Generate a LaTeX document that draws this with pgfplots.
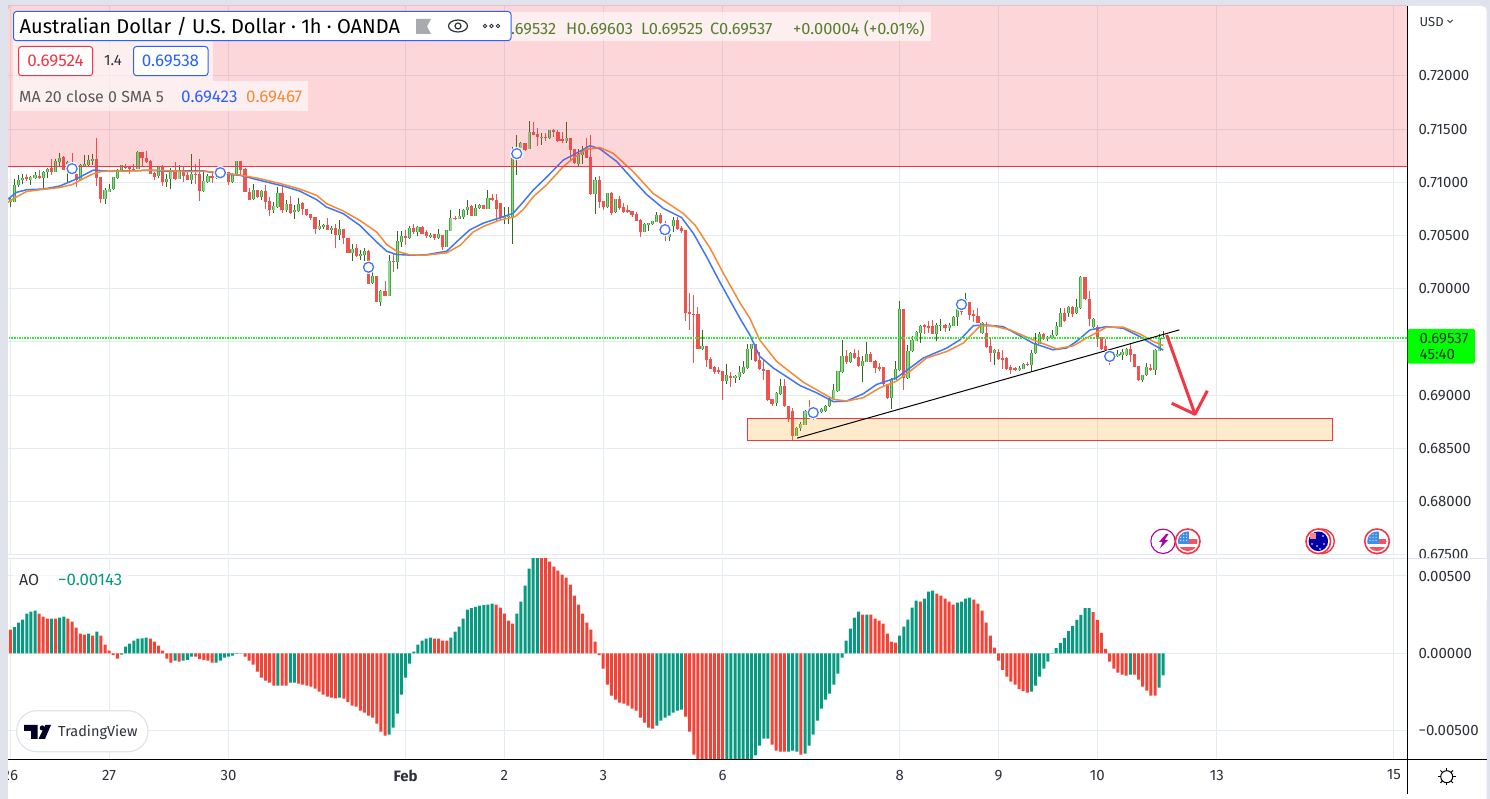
\documentclass[border=0pt]{standalone}
\usepackage{fontspec}
\setmainfont{Fira Sans}
\usepackage{pgfplots}
\usepackage{pgfplotstable}
\usetikzlibrary{calc}
\pgfplotsset{compat=1.18}

\definecolor{framec}{HTML}{E0E3EB}
\definecolor{gridc}{HTML}{E4EBF2}
\definecolor{txt}{HTML}{2F323C}
\definecolor{tvred}{HTML}{F23645}
\definecolor{tvblue}{HTML}{2962FF}
\definecolor{maorange}{HTML}{F58A36}
\definecolor{mablue}{HTML}{4176F5}
\definecolor{upwick}{HTML}{33691E}
\definecolor{upedge}{HTML}{4CA043}
\definecolor{upfill}{HTML}{8BD98A}
\definecolor{dn}{HTML}{EF5350}
\definecolor{aoteal}{HTML}{089981}
\definecolor{aored}{HTML}{F44336}
\definecolor{ohlc}{HTML}{55802F}
\definecolor{zonefill}{HTML}{FF9800}
\definecolor{canton}{HTML}{3F8FE6}
\definecolor{lastprice}{HTML}{2BF02B}

% hourly candles, i = bar number from 26 Jan
\pgfplotstableread{
i o h l c
0 0.70815 0.70862 0.70768 0.70840
1 0.70815 0.71035 0.70815 0.70978
2 0.70972 0.71066 0.70956 0.71025
3 0.71019 0.71075 0.70987 0.71044
5 0.71019 0.71057 0.70972 0.71047
6 0.71041 0.71097 0.71035 0.71066
8 0.71041 0.71104 0.70925 0.71097
9 0.71097 0.71135 0.71041 0.71129
11 0.71097 0.71223 0.71097 0.71198
12 0.71188 0.71279 0.71144 0.71232
14 0.71176 0.71201 0.70997 0.71192
17 0.71025 0.71176 0.71019 0.71160
18 0.71151 0.71254 0.71144 0.71170
19 0.71160 0.71254 0.71144 0.71207
20 0.71198 0.71270 0.71160 0.71223
23 0.70843 0.70947 0.70793 0.70925
24 0.70912 0.70987 0.70909 0.70940
25 0.70934 0.71047 0.70925 0.71047
26 0.71041 0.71129 0.71028 0.71119
27 0.71119 0.71166 0.71113 0.71160
31 0.71129 0.71295 0.71126 0.71286
36 0.71057 0.71157 0.71044 0.71157
38 0.71003 0.71082 0.70956 0.71035
39 0.71031 0.71135 0.70940 0.71119
41 0.71035 0.71160 0.71028 0.71119
44 0.71019 0.71264 0.70987 0.71082
47 0.70915 0.71119 0.70909 0.71009
48 0.71003 0.71082 0.70994 0.71060
50 0.71041 0.71057 0.71035 0.71050
52 0.71082 0.71100 0.71075 0.71094
54 0.71003 0.71088 0.70997 0.71075
55 0.71075 0.71198 0.71075 0.71198
59 0.70845 0.70989 0.70838 0.70926
61 0.70863 0.70932 0.70838 0.70917
64 0.70738 0.70816 0.70713 0.70776
65 0.70769 0.70958 0.70763 0.70901
67 0.70744 0.70832 0.70722 0.70794
69 0.70722 0.70791 0.70653 0.70738
70 0.70732 0.70857 0.70719 0.70801
75 0.70562 0.70644 0.70556 0.70587
76 0.70578 0.70606 0.70565 0.70597
78 0.70549 0.70587 0.70518 0.70575
80 0.70502 0.70644 0.70455 0.70559
83 0.70336 0.70424 0.70260 0.70377
85 0.70308 0.70361 0.70267 0.70323
86 0.70314 0.70386 0.70257 0.70352
88 0.70053 0.70166 0.70047 0.70116
90 0.69874 0.69984 0.69833 0.69975
92 0.69931 0.70314 0.69931 0.70257
94 0.70251 0.70540 0.70182 0.70446
95 0.70436 0.70540 0.70392 0.70493
97 0.70477 0.70587 0.70471 0.70575
99 0.70531 0.70587 0.70493 0.70584
102 0.70490 0.70524 0.70480 0.70509
104 0.70477 0.70559 0.70471 0.70512
106 0.70392 0.70549 0.70392 0.70549
107 0.70546 0.70738 0.70540 0.70669
109 0.70656 0.70754 0.70653 0.70681
110 0.70675 0.70754 0.70659 0.70744
111 0.70738 0.70832 0.70691 0.70769
113 0.70684 0.70794 0.70681 0.70763
114 0.70763 0.70794 0.70754 0.70785
116 0.70754 0.70926 0.70750 0.70857
120 0.70661 0.70765 0.70608 0.70677
121 0.70670 0.70765 0.70608 0.70683
122 0.70677 0.71336 0.70419 0.71226
123 0.71226 0.71446 0.71069 0.71320
124 0.71320 0.71383 0.71305 0.71374
126 0.71314 0.71578 0.71314 0.71471
129 0.71424 0.71468 0.71352 0.71430
131 0.71421 0.71493 0.71411 0.71490
135 0.71393 0.71568 0.71367 0.71418
138 0.71173 0.71311 0.71157 0.71264
139 0.71257 0.71345 0.71173 0.71305
142 0.70890 0.71047 0.70702 0.71022
145 0.70771 0.70903 0.70755 0.70896
147 0.70717 0.70840 0.70708 0.70840
154 0.70535 0.70614 0.70532 0.70608
155 0.70601 0.70620 0.70545 0.70614
156 0.70611 0.70639 0.70598 0.70633
157 0.70629 0.70721 0.70626 0.70692
160 0.70488 0.70535 0.70450 0.70513
161 0.70589 0.70670 0.70535 0.70645
168 0.69430 0.69609 0.69420 0.69458
174 0.69132 0.69295 0.69107 0.69185
176 0.69163 0.69185 0.69116 0.69176
177 0.69169 0.69270 0.69138 0.69213
178 0.69207 0.69320 0.69201 0.69264
179 0.69257 0.69477 0.69248 0.69436
180 0.69433 0.69483 0.69333 0.69477
186 0.68924 0.69028 0.68893 0.69019
187 0.69012 0.69154 0.68997 0.69081
191 0.68617 0.68700 0.68617 0.68695
192 0.68689 0.68748 0.68664 0.68726
193 0.68720 0.68857 0.68717 0.68851
195 0.68789 0.68835 0.68767 0.68820
196 0.68829 0.68866 0.68820 0.68860
197 0.68841 0.68876 0.68835 0.68866
198 0.68851 0.68907 0.68845 0.68897
199 0.68897 0.68975 0.68891 0.68966
200 0.68960 0.69100 0.68953 0.69044
201 0.69037 0.69230 0.69031 0.69224
202 0.69215 0.69519 0.69208 0.69364
204 0.69308 0.69401 0.69302 0.69395
207 0.69271 0.69364 0.69121 0.69320
208 0.69314 0.69498 0.69308 0.69386
214 0.68975 0.69162 0.68866 0.69152
215 0.69146 0.69317 0.69140 0.69246
216 0.69239 0.69883 0.69224 0.69805
218 0.69162 0.69473 0.69156 0.69417
219 0.69411 0.69557 0.69404 0.69519
220 0.69513 0.69603 0.69504 0.69597
221 0.69588 0.69659 0.69488 0.69650
225 0.69575 0.69675 0.69504 0.69656
226 0.69650 0.69712 0.69606 0.69662
228 0.69631 0.69675 0.69606 0.69659
229 0.69653 0.69743 0.69647 0.69737
230 0.69731 0.69812 0.69650 0.69805
232 0.69877 0.69961 0.69877 0.69908
236 0.69582 0.69690 0.69575 0.69681
239 0.69395 0.69432 0.69286 0.69420
245 0.69233 0.69271 0.69227 0.69258
246 0.69249 0.69302 0.69243 0.69295
248 0.69286 0.69426 0.69218 0.69395
249 0.69395 0.69588 0.69389 0.69488
250 0.69482 0.69597 0.69476 0.69572
252 0.69529 0.69557 0.69513 0.69544
253 0.69538 0.69613 0.69532 0.69566
254 0.69563 0.69684 0.69557 0.69653
255 0.69644 0.69821 0.69638 0.69774
257 0.69768 0.69837 0.69731 0.69830
259 0.69768 0.69908 0.69762 0.69824
260 0.69815 0.70120 0.69805 0.70110
263 0.69638 0.69722 0.69628 0.69712
268 0.69379 0.69407 0.69348 0.69395
269 0.69364 0.69426 0.69358 0.69386
270 0.69379 0.69432 0.69333 0.69401
271 0.69379 0.69442 0.69364 0.69432
275 0.69146 0.69193 0.69121 0.69193
276 0.69187 0.69302 0.69177 0.69261
278 0.69239 0.69432 0.69187 0.69426
279 0.69417 0.69575 0.69411 0.69535
280 0.69532 0.69603 0.69525 0.69537
}\candlesup

\pgfplotstableread{
i o h l c
4 0.71053 0.71082 0.71013 0.71031
7 0.71063 0.71113 0.71035 0.71041
10 0.71132 0.71223 0.71066 0.71097
13 0.71239 0.71245 0.71113 0.71119
15 0.71160 0.71279 0.71129 0.71129
16 0.71075 0.71113 0.70956 0.71025
21 0.71223 0.71421 0.70962 0.71041
22 0.71047 0.71047 0.70805 0.70843
28 0.71157 0.71176 0.71129 0.71138
29 0.71141 0.71151 0.71082 0.71122
30 0.71129 0.71176 0.71113 0.71122
32 0.71283 0.71283 0.71151 0.71232
33 0.71232 0.71295 0.71182 0.71188
34 0.71198 0.71214 0.71082 0.71082
35 0.71088 0.71097 0.71025 0.71050
37 0.71154 0.71160 0.70962 0.71003
40 0.71119 0.71192 0.71019 0.71035
42 0.71119 0.71144 0.71003 0.71057
43 0.71066 0.71097 0.71019 0.71019
45 0.71082 0.71176 0.70987 0.71069
46 0.71082 0.71217 0.70824 0.70918
49 0.71060 0.71088 0.70997 0.71044
51 0.71082 0.71097 0.71041 0.71050
53 0.71094 0.71094 0.70978 0.71003
56 0.71198 0.71198 0.71066 0.71119
57 0.71129 0.71135 0.70906 0.70906
58 0.70911 0.70951 0.70835 0.70838
60 0.70926 0.70926 0.70857 0.70863
62 0.70917 0.70973 0.70747 0.70816
63 0.70823 0.70863 0.70684 0.70738
66 0.70901 0.70967 0.70713 0.70744
68 0.70794 0.70870 0.70706 0.70713
71 0.70807 0.70816 0.70691 0.70750
72 0.70754 0.70754 0.70684 0.70691
73 0.70700 0.70706 0.70650 0.70662
74 0.70672 0.70678 0.70512 0.70559
77 0.70597 0.70662 0.70549 0.70549
79 0.70575 0.70612 0.70380 0.70502
81 0.70562 0.70565 0.70417 0.70477
82 0.70480 0.70480 0.70333 0.70333
84 0.70380 0.70424 0.70298 0.70304
87 0.70352 0.70367 0.70040 0.70047
89 0.70116 0.70116 0.69874 0.69874
91 0.69975 0.70069 0.69931 0.69931
93 0.70257 0.70336 0.70157 0.70251
96 0.70493 0.70549 0.70414 0.70477
98 0.70575 0.70606 0.70518 0.70531
100 0.70584 0.70587 0.70518 0.70518
101 0.70531 0.70549 0.70480 0.70493
103 0.70512 0.70518 0.70461 0.70474
105 0.70509 0.70509 0.70361 0.70392
108 0.70666 0.70681 0.70644 0.70653
112 0.70776 0.70785 0.70681 0.70688
115 0.70785 0.70785 0.70754 0.70754
117 0.70857 0.70889 0.70826 0.70832
118 0.70838 0.70889 0.70625 0.70754
119 0.70802 0.70802 0.70645 0.70661
125 0.71367 0.71367 0.71298 0.71305
127 0.71474 0.71568 0.71446 0.71446
128 0.71455 0.71509 0.71345 0.71424
130 0.71430 0.71462 0.71393 0.71418
132 0.71493 0.71499 0.71430 0.71471
133 0.71477 0.71493 0.71383 0.71393
134 0.71408 0.71471 0.71367 0.71393
136 0.71421 0.71421 0.71210 0.71305
137 0.71311 0.71311 0.71173 0.71179
140 0.71305 0.71414 0.71226 0.71232
141 0.71236 0.71446 0.70881 0.70890
143 0.71022 0.71060 0.70755 0.70818
144 0.70824 0.70824 0.70739 0.70771
146 0.70896 0.70912 0.70692 0.70714
148 0.70840 0.70871 0.70739 0.70755
149 0.70765 0.70802 0.70714 0.70724
150 0.70736 0.70786 0.70708 0.70717
151 0.70730 0.70733 0.70677 0.70692
152 0.70699 0.70724 0.70636 0.70639
153 0.70645 0.70651 0.70488 0.70535
158 0.70692 0.70714 0.70608 0.70614
159 0.70608 0.70639 0.70450 0.70494
162 0.70645 0.70670 0.70551 0.70557
163 0.70567 0.70589 0.70520 0.70545
164 0.70551 0.70551 0.69697 0.69772
165 0.69779 0.69961 0.69609 0.69763
166 0.69766 0.69939 0.69301 0.69750
167 0.69760 0.69829 0.69436 0.69436
169 0.69458 0.69465 0.69264 0.69326
170 0.69336 0.69358 0.69248 0.69248
171 0.69264 0.69270 0.69201 0.69219
172 0.69232 0.69264 0.69201 0.69216
173 0.69223 0.69223 0.68956 0.69132
175 0.69182 0.69216 0.69075 0.69163
181 0.69477 0.69483 0.69311 0.69320
182 0.69326 0.69405 0.69238 0.69245
183 0.69245 0.69333 0.69138 0.69223
184 0.69232 0.69232 0.68943 0.68950
185 0.68959 0.68965 0.68902 0.68918
188 0.69081 0.69154 0.68887 0.68893
189 0.68902 0.68902 0.68745 0.68777
190 0.68851 0.68882 0.68571 0.68617
194 0.68882 0.68950 0.68845 0.68851
203 0.69364 0.69426 0.69295 0.69308
205 0.69395 0.69432 0.69342 0.69348
206 0.69358 0.69426 0.69264 0.69271
209 0.69386 0.69401 0.69308 0.69314
210 0.69317 0.69333 0.69208 0.69255
211 0.69264 0.69302 0.69224 0.69246
212 0.69264 0.69264 0.69090 0.69100
213 0.69109 0.69109 0.68966 0.68975
217 0.69805 0.69805 0.69044 0.69162
222 0.69656 0.69666 0.69575 0.69644
223 0.69653 0.69697 0.69582 0.69628
224 0.69650 0.69706 0.69572 0.69575
227 0.69659 0.69666 0.69597 0.69631
231 0.69829 0.69893 0.69753 0.69784
233 0.69871 0.69877 0.69706 0.69753
234 0.69762 0.69799 0.69690 0.69743
235 0.69743 0.69821 0.69675 0.69681
237 0.69588 0.69690 0.69442 0.69448
238 0.69457 0.69535 0.69311 0.69395
240 0.69404 0.69432 0.69333 0.69339
241 0.69348 0.69420 0.69246 0.69333
242 0.69345 0.69355 0.69239 0.69246
243 0.69261 0.69286 0.69202 0.69239
244 0.69255 0.69264 0.69230 0.69233
247 0.69295 0.69308 0.69271 0.69280
251 0.69575 0.69588 0.69519 0.69526
256 0.69774 0.69815 0.69690 0.69697
258 0.69830 0.69837 0.69737 0.69762
261 0.70110 0.70110 0.69893 0.69899
262 0.69899 0.69980 0.69650 0.69712
264 0.69644 0.69659 0.69451 0.69535
265 0.69544 0.69550 0.69426 0.69432
266 0.69463 0.69526 0.69411 0.69420
267 0.69420 0.69432 0.69286 0.69317
272 0.69432 0.69488 0.69308 0.69379
273 0.69389 0.69389 0.69261 0.69261
274 0.69271 0.69271 0.69131 0.69146
277 0.69258 0.69292 0.69230 0.69239
}\candlesdown

\begin{document}
\begin{tikzpicture}
\useasboundingbox (0,0) rectangle (1490pt,799pt);
\fill[framec] (0,0) rectangle (1490pt,799pt);
\fill[white] (8pt,0) [rounded corners=5pt] -- (8pt,793pt) -- (1486.7pt,793pt) [sharp corners] -- (1486.7pt,0) -- cycle;

% price pane: grid and candles
\begin{axis}[
    at={(8pt,244pt)}, anchor=south west, scale only axis,
    width=1399pt, height=549pt,
    xmin=-0.56, xmax=339.2, ymin=0.67497, ymax=0.72658,
    axis line style={draw=none}, major tick length=0pt, scaled ticks=false,
    grid=major, grid style={color=gridc, line width=1pt},
    xtick={0,24,53,96,120,144,173,216,240,264,293,336}, xticklabels={},
    ytick={0.675,0.68,0.685,0.69,0.695,0.70,0.705,0.71,0.715,0.72},
    yticklabels={0.67500,0.68000,0.68500,0.69000,{},0.70000,0.70500,0.71000,0.71500,0.72000},
    yticklabel pos=right,
    yticklabel style={anchor=west, xshift=8pt, text=txt, font=\fontsize{15}{15}\selectfont},
]
    % wicks
    \addplot[draw=none, mark=none, forget plot, error bars/.cd, y dir=minus, y explicit, error mark=none,
        error bar style={color=upwick, line width=1pt}]
        table[x=i, y=h, y error minus expr=\thisrow{h}-\thisrow{l}] {\candlesup};
    \addplot[draw=none, mark=none, forget plot, error bars/.cd, y dir=minus, y explicit, error mark=none,
        error bar style={color=dn, line width=1pt}]
        table[x=i, y=h, y error minus expr=\thisrow{h}-\thisrow{l}] {\candlesdown};
    % bodies
    \addplot[draw=none, mark=none, forget plot, error bars/.cd, y dir=minus, y explicit, error mark=none,
        error bar style={color=upedge, line width=3.2pt}]
        table[x=i, y=c, y error minus expr=\thisrow{c}-\thisrow{o}] {\candlesup};
    \addplot[draw=none, mark=none, forget plot, error bars/.cd, y dir=minus, y explicit, error mark=none,
        error bar style={color=upfill, line width=1.4pt}]
        table[x=i, y=c, y error minus expr=\thisrow{c}-\thisrow{o}] {\candlesup};
    \addplot[draw=none, mark=none, forget plot, error bars/.cd, y dir=minus, y explicit, error mark=none,
        error bar style={color=dn, line width=3.2pt}]
        table[x=i, y=o, y error minus expr=\thisrow{o}-\thisrow{c}] {\candlesdown};
\end{axis}

% price pane: everything that lies over the candles
\begin{axis}[
    at={(8pt,244pt)}, anchor=south west, scale only axis,
    width=1399pt, height=549pt,
    xmin=-0.56, xmax=339.2, ymin=0.67497, ymax=0.72658,
    hide axis,
]
    % MA 20 and its SMA 5
    \addplot[mablue, line width=1.5pt] coordinates {
        (-0.56,0.70843)(1.5,0.70906)(4,0.70931)(8,0.70937)(12,0.70965)(15.3,0.71019)(17.7,0.71066)(20.2,0.71116)
        (24.2,0.71104)(29.9,0.71110)(33.9,0.71113)(38,0.71104)(42.8,0.71107)(46.9,0.71107)(50.9,0.71082)(55.8,0.71066)
        (60.6,0.71019)(66.3,0.70965)(70.3,0.70918)(74.4,0.70837)(76.8,0.70768)(80.9,0.70705)(84.9,0.70595)(89,0.70438)
        (91.4,0.70353)(93.8,0.70322)(97,0.70316)(101,0.70319)(106,0.70353)(109.2,0.70470)(111.6,0.70554)(114.9,0.70617)
        (118.9,0.70667)(122.1,0.70708)(124.6,0.70818)(127,0.70928)(130.2,0.71047)(134.3,0.71210)(136.7,0.71257)(140.8,0.71345)
        (143.2,0.71314)(147.3,0.71195)(151.3,0.71022)(154.5,0.70887)(158.6,0.70755)(163,0.70670)(165.9,0.70520)(169.1,0.70300)
        (172.3,0.70064)(177.2,0.69722)(179.6,0.69566)(182,0.69364)(185.3,0.69255)(191.8,0.69090)(195.8,0.69022)(199.9,0.68938)
        (203.1,0.68944)(207.1,0.69012)(210.4,0.69100)(215.2,0.69162)(218.5,0.69255)(221.7,0.69348)(227.4,0.69442)(230.6,0.69519)
        (233.9,0.69653)(237.1,0.69659)(241.1,0.69644)(244.4,0.69575)(248.4,0.69488)(253.2,0.69426)(256.5,0.69442)(258.9,0.69504)
        (262.2,0.69613)(266.2,0.69644)(270.3,0.69628)(274.3,0.69550)(277.6,0.69473)(280,0.69423)};
    \addplot[maorange, line width=1.5pt] coordinates {
        (-0.56,0.70812)(1.5,0.70863)(4,0.70915)(8,0.70934)(11.7,0.70950)(15,0.70978)(17.7,0.71035)(20.2,0.71082)(22.3,0.71104)
        (29.9,0.71107)(33.9,0.71116)(38,0.71110)(42.8,0.71101)(47.5,0.71104)(50.9,0.71091)(55.8,0.71069)(60.6,0.71035)
        (66.3,0.70981)(70.3,0.70937)(74.4,0.70878)(76.8,0.70800)(80.9,0.70730)(84.9,0.70642)(89,0.70532)(91.4,0.70416)
        (93.8,0.70353)(97,0.70319)(101,0.70316)(106,0.70338)(109.2,0.70407)(112.4,0.70533)(114.9,0.70586)
        (118.9,0.70645)(122.6,0.70677)(124.6,0.70746)(127,0.70865)(130.2,0.70975)(134.3,0.71148)(136.7,0.71226)(139.9,0.71311)
        (143.2,0.71327)(146.4,0.71273)(151.3,0.71100)(156.1,0.70896)(163.4,0.70708)(166.3,0.70598)(170,0.70378)(173.2,0.70143)
        (177.2,0.69868)(179.6,0.69722)(182,0.69519)(186.1,0.69317)(192.6,0.69121)(199.9,0.68960)(203.1,0.68944)(207.1,0.68975)
        (211.2,0.69068)(215.2,0.69131)(218.5,0.69224)(222.5,0.69348)(227.4,0.69410)(231.4,0.69488)(235.5,0.69650)(238.7,0.69650)
        (242.8,0.69613)(248.4,0.69519)(254.1,0.69435)(258.1,0.69463)(261.3,0.69535)(266.2,0.69638)(270.3,0.69638)(274.3,0.69575)
        (277.6,0.69504)(280,0.69467)};

    % last price
    \addplot[draw=lastprice, dash pattern=on 1.6pt off 1pt, line width=1.1pt] coordinates {(-1,0.69537)(340,0.69537)};

    % drawings on the chart
    \fill[tvred, fill opacity=0.2] (axis cs:-1,0.71148) rectangle (axis cs:340,0.73);
    \draw[tvred, line width=1pt] (axis cs:-1,0.71148) -- (axis cs:340,0.71148);
    \filldraw[draw=tvred, fill=zonefill, fill opacity=0.2, line width=1pt] (axis cs:179,0.68784) rectangle (axis cs:321,0.68577);
    \draw[black, line width=1pt] (axis cs:191.1,0.68596) -- (axis cs:283.9,0.69613);

    % signals, one every 36 bars
    \addplot[only marks, color=white, mark=*, mark size=6.4pt] coordinates {
        (15,0.71129)(51,0.71091)(87,0.70202)(123,0.71270)(159,0.70555)(195,0.68835)(231,0.69852)(267,0.69364)};
    \addplot[only marks, color=mablue, mark=o, mark size=5pt, mark options={line width=1.3pt}] coordinates {
        (15,0.71129)(51,0.71091)(87,0.70202)(123,0.71270)(159,0.70555)(195,0.68835)(231,0.69852)(267,0.69364)};
\end{axis}

% pane separator hides the lower half of the last price label
\fill[white] (1408pt,199pt) rectangle (1486.7pt,240.3pt);
\draw[framec, line width=1pt] (8pt,240.5pt) -- (1486.7pt,240.5pt);

% AO pane
\begin{axis}[
    at={(8pt,39.7pt)}, anchor=south west, scale only axis,
    width=1399pt, height=200.8pt,
    xmin=-0.56, xmax=339.2, ymin=-0.006856, ymax=0.006132,
    ybar, bar width=3pt, bar shift=0pt,
    axis line style={draw=none}, major tick length=0pt, scaled ticks=false,
    grid=major, grid style={color=gridc, line width=1pt},
    xtick={0,24,53,96,120,144,173,216,240,264,293,336},
    xticklabels={26,27,30,\textbf{Feb},2,3,6,8,9,10,13,15},
    xticklabel style={yshift=-7pt, text=txt, font=\fontsize{15}{15}\selectfont},
    ytick={-0.005,0,0.005},
    yticklabels={−0.00500,0.00000,0.00500},
    yticklabel pos=right,
    yticklabel style={anchor=west, xshift=8pt, text=txt, font=\fontsize{15}{15}\selectfont},
]
    \addplot[draw=none, fill=aoteal] coordinates {
        (1,0.00170)(2,0.00198)(3,0.00218)(4,0.00257)(5,0.00270)(6,0.00276)(10,0.00224)(12,0.00231)(13,0.00237)
        (19,0.00127)(21,0.00140)(27,-0.00009)(28,0.00043)(29,0.00063)(30,0.00082)(31,0.00095)(32,0.00097)(33,0.00101)
        (40,-0.00047)(42,-0.00047)(43,-0.00043)(44,-0.00022)(50,-0.00060)(51,-0.00047)(52,-0.00028)(53,-0.00022)(54,-0.00015)(55,-0.00004)
        (65,-0.00209)(68,-0.00190)(69,-0.00190)(80,-0.00287)(92,-0.00526)(93,-0.00481)(94,-0.00390)(95,-0.00267)(96,-0.00157)(97,-0.00067)
        (98,0.00011)(99,0.00056)(100,0.00082)(101,0.00095)(102,0.00101)(107,0.00101)(108,0.00140)(109,0.00172)(110,0.00224)(111,0.00282)
        (112,0.00293)(113,0.00300)(114,0.00308)(115,0.00313)(116,0.00315)(117,0.00321)
        (123,0.00257)(124,0.00334)(125,0.00438)(126,0.00548)(127,0.00647)(128,0.00647)
        (157,-0.00468)(158,-0.00436)(159,-0.00416)(160,-0.00403)(161,-0.00384)(162,-0.00371)(163,-0.00364)
        (174,-0.00711)(175,-0.00711)(176,-0.00711)(177,-0.00711)(178,-0.00711)(179,-0.00711)(180,-0.00700)(181,-0.00660)(182,-0.00597)(183,-0.00552)(184,-0.00552)
        (189,-0.00636)(190,-0.00630)(191,-0.00636)(193,-0.00649)(194,-0.00597)(195,-0.00526)(196,-0.00436)(197,-0.00358)(198,-0.00300)(199,-0.00261)
        (200,-0.00203)(201,-0.00132)(202,-0.00028)(203,0.00082)(204,0.00160)(205,0.00231)(206,0.00270)(208,0.00250)
        (216,0.00114)(217,0.00172)(218,0.00218)(219,0.00295)(220,0.00341)(222,0.00354)(223,0.00399)(224,0.00405)
        (230,0.00328)(231,0.00334)(232,0.00354)(233,0.00360)
        (248,-0.00248)(249,-0.00209)(250,-0.00151)(251,-0.00099)(252,-0.00054)(253,-0.00002)(254,0.00034)(255,0.00067)(256,0.00099)
        (257,0.00144)(258,0.00177)(259,0.00216)(260,0.00248)(261,0.00293)(262,0.00293)(272,-0.00138)(279,-0.00222)(280,-0.00143)};
    \addplot[draw=none, fill=aored] coordinates {
        (0,0.00153)(7,0.00257)(8,0.00237)(9,0.00224)(11,0.00224)(14,0.00224)(15,0.00205)(16,0.00166)(17,0.00127)(18,0.00121)
        (20,0.00114)(22,0.00114)(23,0.00056)(24,0.00017)(25,-0.00011)(26,-0.00034)(34,0.00095)(35,0.00075)(36,0.00050)(37,0.00017)
        (38,-0.00034)(39,-0.00060)(41,-0.00054)(45,-0.00022)(46,-0.00037)(47,-0.00043)(48,-0.00047)(49,-0.00060)
        (56,-0.00002)(57,-0.00022)(58,-0.00047)(59,-0.00073)(60,-0.00119)(61,-0.00157)(62,-0.00177)(63,-0.00190)(64,-0.00209)(66,-0.00209)(67,-0.00209)
        (70,-0.00196)(71,-0.00203)(72,-0.00209)(73,-0.00216)(74,-0.00229)(75,-0.00248)(76,-0.00267)(77,-0.00280)(78,-0.00287)(79,-0.00291)
        (81,-0.00293)(82,-0.00315)(83,-0.00338)(84,-0.00345)(85,-0.00371)(86,-0.00384)(87,-0.00403)(88,-0.00416)(89,-0.00455)(90,-0.00507)(91,-0.00533)
        (103,0.00095)(104,0.00095)(105,0.00082)(106,0.00082)(118,0.00315)(119,0.00295)(120,0.00257)(121,0.00211)(122,0.00192)
        (129,0.00636)(130,0.00625)(131,0.00593)(132,0.00561)(133,0.00535)(134,0.00509)(135,0.00489)(136,0.00444)(137,0.00373)(138,0.00315)
        (139,0.00257)(140,0.00198)(141,0.00153)(142,0.00075)(143,-0.00011)(144,-0.00099)(145,-0.00203)(146,-0.00274)(147,-0.00300)(148,-0.00319)
        (149,-0.00326)(150,-0.00338)(151,-0.00358)(152,-0.00371)(153,-0.00416)(154,-0.00448)(155,-0.00481)(156,-0.00487)
        (164,-0.00410)(165,-0.00507)(166,-0.00655)(167,-0.00690)(168,-0.00700)(169,-0.00711)(170,-0.00711)(171,-0.00711)(172,-0.00711)(173,-0.00711)
        (185,-0.00591)(186,-0.00630)(187,-0.00636)(188,-0.00636)(192,-0.00655)
        (207,0.00250)(209,0.00250)(210,0.00224)(211,0.00211)(212,0.00192)(213,0.00127)(214,0.00075)(215,0.00069)
        (221,0.00334)(225,0.00386)(226,0.00373)(227,0.00354)(228,0.00334)(229,0.00315)
        (234,0.00347)(235,0.00321)(236,0.00276)(237,0.00198)(238,0.00114)(239,0.00037)(240,-0.00047)(241,-0.00108)(242,-0.00151)(243,-0.00183)
        (244,-0.00203)(245,-0.00231)(246,-0.00244)(247,-0.00254)(263,0.00267)(264,0.00216)(265,0.00132)(266,0.00028)(267,-0.00054)(268,-0.00099)
        (269,-0.00125)(270,-0.00138)(271,-0.00144)(273,-0.00138)(274,-0.00170)(275,-0.00216)(276,-0.00241)(277,-0.00274)(278,-0.00274)};
\end{axis}

% interface overlay, coordinates in image pixels from the top left
\begin{scope}[x=1pt,y=-1pt,yshift=799pt]
    \newcommand{\lbl}[5][west]{\node[anchor=#1,inner sep=0pt,text=#2,font=\fontsize{#3}{#3}\selectfont] at (#4) {#5};}

    % frame lines
    \draw[black, line width=1pt] (1407,6) -- (1407,794);
    \draw[black, line width=1pt] (8,759.3) -- (1486.7,759.3);
    \fill[white] (1407.6,329) rectangle (1476,364);
    \fill[green, rounded corners=1.5pt] (1407.5,329) rectangle (1475,363.7);
    \lbl{txt}{15}{1419.5,338.5}{0.69537}
    \lbl{txt}{15}{1419.5,355}{45:40}
    \lbl{txt}{13}{1419.5,22}{USD}
    \draw[txt, line width=1pt] (1447.5,20) -- (1450,22.5) -- (1452.5,20);

    % header
    \fill[white, fill opacity=0.6] (13,12) rectangle (931,41);
    \fill[white, fill opacity=0.6] (13,41) rectangle (213,81);
    \fill[white, fill opacity=0.6] (13,81) rectangle (308,111);
    \lbl{ohlc}{16.4}{511,29}{.69532}
    \lbl{ohlc}{16.4}{566,29}{H0.69603}
    \lbl{ohlc}{16.4}{641,29}{L0.69525}
    \lbl{ohlc}{16.4}{710,29}{C0.69537}
    \lbl{ohlc}{16.4}{793,29}{+0.00004 (+0.01\%)}
    \filldraw[draw=tvblue, fill=white, line width=1pt, rounded corners=3pt] (13.5,11.5) rectangle (511,40.7);
    \lbl{black}{20}{19.5,26.5}{Australian Dollar / U.S. Dollar · 1h · OANDA}
    \fill[black!25!framec] (416,19) -- (431,19) -- (427,26.5) -- (431,34) -- (416,34) -- cycle;
    \draw[txt, line width=1.2pt] (458,26) ellipse (9.5 and 6);
    \draw[txt, line width=1.2pt] (458,26) circle (3);
    \foreach \dx in {485,491.5,498} \draw[txt, line width=0.9pt] (\dx,26) circle (1.7);

    \filldraw[draw=tvred, fill=white, line width=1pt, rounded corners=3pt] (18.5,46.5) rectangle (92.7,75.7);
    \lbl[center]{tvred}{17}{55.5,61}{0.69524}
    \lbl[center]{txt}{15}{113,61}{1.4}
    \filldraw[draw=tvblue, fill=white, line width=1pt, rounded corners=3pt] (133.5,46.5) rectangle (208,75.7);
    \lbl[center]{tvblue}{17}{170.5,61}{0.69538}
    \lbl{black!65}{16}{19,97}{MA 20 close 0 SMA 5}
    \lbl{tvblue}{17}{181,97}{0.69423}
    \lbl{maorange}{17}{246,97}{0.69467}

    % AO legend
    \fill[white, fill opacity=0.6] (13,566) rectangle (128,594);
    \lbl{txt}{16}{19,580}{AO}
    \lbl{aoteal}{16.8}{58,580}{−0.00143}

    % logo
    \filldraw[draw=framec, fill=white, line width=1.2pt, rounded corners=20pt] (16.7,710.7) rectangle (148,751.7);
    \fill[black!85!blue] (24,725) -- (37.5,725) -- (37.5,739) -- (31,739) -- (31,731) -- (24,731) -- cycle;
    \fill[black!85!blue] (42.3,728) circle (2.6);
    \fill[black!85!blue] (45.5,725) -- (51,725) -- (45,739) -- (38.5,739) -- cycle;
    \lbl{txt}{14.5}{58,732}{TradingView}

    % economic events
    \filldraw[draw=violet!70!magenta, fill=white, line width=1.1pt] (1163,541.3) circle (12.2);
    \fill[violet!70!magenta] (1166,534) -- (1159,542) -- (1162.5,542) -- (1160,548.5) -- (1168,540) -- (1164.5,540) -- (1168.5,534) -- cycle;
    \foreach \cx in {1187.7,1377} {
        \filldraw[draw=tvred, fill=white, line width=1.6pt] (\cx,541.3) circle (12.3);
        \begin{scope}
            \clip (\cx,541.3) circle (9.8);
            \fill[tvred!85!white] (\cx+1.7,539.3) rectangle (\cx+10,544);
            \fill[tvred!85!white] (\cx-10,547.3) rectangle (\cx+10,552);
            \fill[canton] (\cx-10,531) rectangle (\cx+1.7,544);
            \foreach \ax in {-7,-4,-1} \foreach \ay in {-7,-4,-1} \fill[white] (\cx+\ax,541.3+\ay) circle (0.55);
        \end{scope}
    }
    \draw[tvred, line width=1.4pt] (1322,541.3) circle (12.3);
    \filldraw[draw=tvred, fill=white, line width=1.6pt] (1318.3,541.3) circle (12.3);
    \fill[blue!65!black] (1318.3,541.3) circle (9.8);
    \fill[tvred!60!white] (1310,533) rectangle (1316,539);
    \foreach \sx/\sy in {1323/536,1324/544,1317/546,1320/549,1312/544} \fill[white] (\sx,\sy) circle (0.8);

    % arrow on the chart
    \draw[tvred, line width=3pt] (1166.7,335) -- (1195,414.3);
    \draw[tvred, line width=3pt, line join=round] (1171.7,403.3) -- (1195,414.3) -- (1207.3,390.7);

    % gear
    \draw[black, line width=1pt] (1446.7,776.7) circle (6);
    \foreach \a in {0,45,...,315} \draw[black, line width=1pt] ($(1446.7,776.7)+(\a:6)$) -- ($(1446.7,776.7)+(\a:8.8)$);

    % left frame on top of the first date label
    \fill[framec] (0,0) rectangle (7.8,799);
\end{scope}
\end{tikzpicture}
\end{document}
